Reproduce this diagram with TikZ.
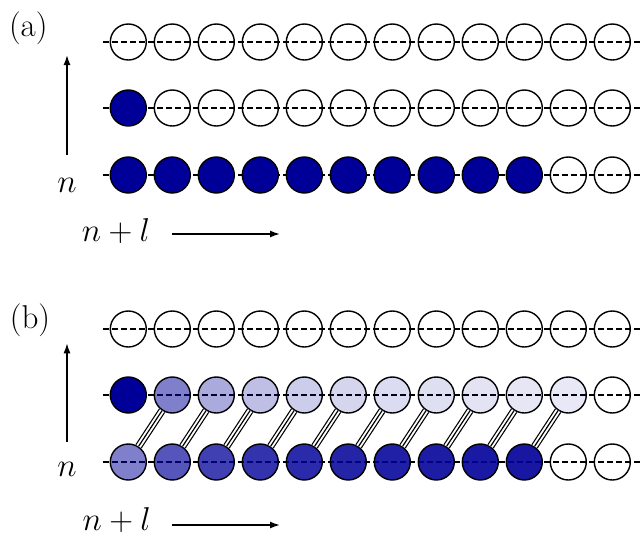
\RequirePackage{fix-cm}
\documentclass[tikz,border=0pt]{standalone}
\usetikzlibrary{arrows.meta}
\definecolor{navy}{RGB}{0,0,153}
\begin{document}
\begin{tikzpicture}[x=1pt,y=-1pt,
  site/.style={circle, draw=black, line width=1.4pt, minimum size=36pt, inner sep=0pt},
  chain/.style={draw=black, dash pattern=on 5.5pt off 3.5pt, line width=1.6pt},
  bond/.style={draw=black, line width=7.4pt,
    postaction={draw=white, line width=5pt},
    postaction={draw=black, line width=1.2pt}},
  lbl/.style={font=\fontsize{33}{40}\selectfont, anchor=base, inner sep=0pt},
  axis/.style={draw=black, line width=1.5pt, -{Latex[length=10pt,width=7pt]}}]
\useasboundingbox (0,0) rectangle (640,536);
% chain lines
\foreach \y [count=\i] in {42,108,175,329,395,462} {
  \coordinate (ls\i) at (103,\y);
  \coordinate (le\i) at (640,\y);
  \draw[chain] (ls\i) -- (le\i);
}
% (a) top row
\foreach \c in {1,...,12} \node[site] (at\c) at ({128.3+44*(\c-1)},42) {};
% (a) middle row
\node[site, fill=navy] (am1) at (128.3,108) {};
\foreach \c in {2,...,12} \node[site] (am\c) at ({128.3+44*(\c-1)},108) {};
% (a) bottom row
\foreach \c in {1,...,10} \node[site, fill=navy] (ab\c) at ({128.3+44*(\c-1)},175) {};
\foreach \c in {11,12} \node[site] (ab\c) at ({128.3+44*(\c-1)},175) {};
% (b) top row
\foreach \c in {1,...,12} \node[site] (bt\c) at ({128.3+44*(\c-1)},329) {};
% (b) middle row
\node[site, fill=navy] (bm1) at (128.3,395) {};
\foreach \c in {2,...,11} {
  \pgfmathsetmacro\op{1/\c}
  \node[site, fill=navy, fill opacity=\op] (bm\c) at ({128.3+44*(\c-1)},395) {};
}
\node[site] (bm12) at ({128.3+44*11},395) {};
% (b) bottom row
\foreach \c in {1,...,10} {
  \pgfmathsetmacro\op{1-1/(\c+1)}
  \node[site, fill=navy, fill opacity=\op] (bb\c) at ({128.3+44*(\c-1)},462) {};
}
\foreach \c in {11,12} \node[site] (bb\c) at ({128.3+44*(\c-1)},462) {};
% bonds
\foreach \c [evaluate=\c as \d using {int(\c+1)}] in {1,...,10} \draw[bond] (bb\c) -- (bm\d);
% labels (a)
\node[lbl] (la) at (28.3,36) {(a)};
\coordinate (va0) at (67,155);
\coordinate (va1) at (67,55);
\draw[axis] (va0) -- (va1);
\node[lbl] (na) at (67,192) {$n$};
\node[lbl] (nla) at (116,241.5) {$n+l$};
\coordinate (ha0) at (171.7,234);
\coordinate (ha1) at (280,234);
\draw[axis] (ha0) -- (ha1);
% labels (b)
\node[lbl] (lb) at (30,328.5) {(b)};
\coordinate (vb0) at (67,441.7);
\coordinate (vb1) at (67,343.3);
\draw[axis] (vb0) -- (vb1);
\node[lbl] (nb) at (67,476) {$n$};
\node[lbl] (nlb) at (116.7,530) {$n+l$};
\coordinate (hb0) at (171.7,525);
\coordinate (hb1) at (280,525);
\draw[axis] (hb0) -- (hb1);
\end{tikzpicture}
\end{document}
